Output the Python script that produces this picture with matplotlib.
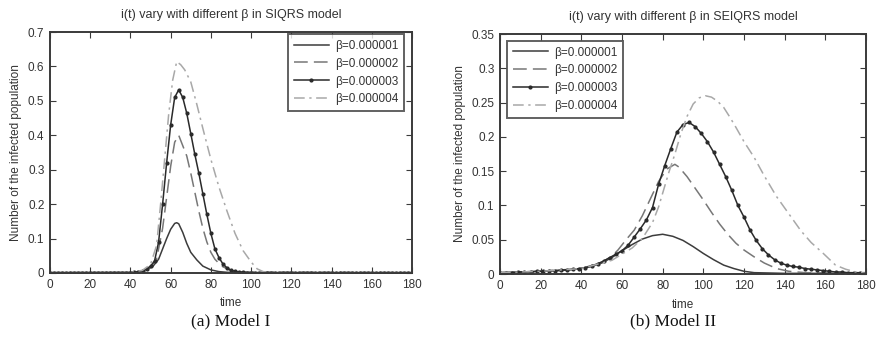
import numpy as np
import matplotlib
matplotlib.use('Agg')
import matplotlib.pyplot as plt
from matplotlib.ticker import FormatStrFormatter

plt.rcParams['font.family'] = ['Liberation Sans', 'DejaVu Sans']

labels = ['\u03b2=0.000001', '\u03b2=0.000002', '\u03b2=0.000003', '\u03b2=0.000004']

# ---- (a) SIQRS model ----
a1_t = [0, 40, 44, 48, 51, 54, 56, 58, 60, 62, 63, 64, 66, 68, 70, 73, 76, 80, 84, 88, 92, 180]
a1_v = [0.001, 0.002, 0.004, 0.01, 0.018, 0.04, 0.07, 0.1, 0.127, 0.144, 0.146, 0.143, 0.118,
        0.086, 0.06, 0.038, 0.02, 0.009, 0.004, 0.002, 0.001, 0.001]

a2_t = [0, 40, 46, 50, 53, 56, 58, 60, 62, 64, 66, 68, 70, 72, 74, 76, 78, 80, 82, 84, 86, 90, 94, 180]
a2_v = [0.001, 0.001, 0.006, 0.017, 0.04, 0.13, 0.22, 0.31, 0.38, 0.40, 0.37, 0.34, 0.29, 0.235,
        0.18, 0.13, 0.09, 0.06, 0.04, 0.028, 0.018, 0.007, 0.003, 0.001]

a3_t = list(range(0, 182, 2))
a3_v = [0.001, 0.001, 0.001, 0.001, 0.001, 0.001, 0.001, 0.001, 0.001, 0.001,   # 0-18
        0.001, 0.001, 0.001, 0.001, 0.001, 0.001, 0.001, 0.001, 0.001, 0.001,   # 20-38
        0.001, 0.002, 0.004, 0.007, 0.012, 0.02, 0.035, 0.09, 0.2, 0.32,        # 40-58
        0.43, 0.51, 0.532, 0.51, 0.464, 0.405, 0.345, 0.29, 0.23, 0.17,         # 60-78
        0.115, 0.07, 0.045, 0.026, 0.015, 0.008, 0.005, 0.003, 0.002, 0.001,    # 80-98
        0.001, 0.001, 0.001, 0.001, 0.001, 0.001, 0.001, 0.001, 0.001, 0.001,   # 100-118
        0.001, 0.001, 0.001, 0.001, 0.001, 0.001, 0.001, 0.001, 0.001, 0.001,   # 120-138
        0.001, 0.001, 0.001, 0.001, 0.001, 0.001, 0.001, 0.001, 0.001, 0.001,   # 140-158
        0.001, 0.001, 0.001, 0.001, 0.001, 0.001, 0.001, 0.001, 0.001, 0.001,   # 160-178
        0.001]                                                                  # 180

a4_t = [0, 40, 46, 50, 53, 55, 57, 59, 61, 63, 65, 67, 70, 73, 76, 80, 84, 88, 92, 96, 100, 103, 106, 110, 180]
a4_v = [0.001, 0.001, 0.008, 0.025, 0.08, 0.2, 0.33, 0.46, 0.56, 0.614, 0.605, 0.59, 0.555, 0.49,
        0.42, 0.33, 0.25, 0.18, 0.115, 0.065, 0.032, 0.012, 0.004, 0.001, 0.001]

# ---- (b) SEIQRS model ----
b1_t = [0, 10, 20, 30, 40, 45, 50, 55, 60, 65, 70, 75, 80, 85, 90, 95, 100, 105, 110, 115, 120, 125, 140, 180]
b1_v = [0.002, 0.003, 0.004, 0.005, 0.008, 0.011, 0.016, 0.024, 0.034, 0.043, 0.051, 0.056, 0.058,
        0.055, 0.049, 0.04, 0.03, 0.021, 0.013, 0.008, 0.004, 0.002, 0.001, 0.001]

b2_t = [0, 20, 40, 50, 55, 58, 62, 66, 70, 74, 78, 82, 86, 88, 92, 96, 100, 104, 108, 112, 116, 120,
        125, 130, 136, 142, 150, 180]
b2_v = [0.002, 0.004, 0.008, 0.017, 0.026, 0.035, 0.05, 0.064, 0.085, 0.11, 0.135, 0.153, 0.16, 0.156,
        0.142, 0.125, 0.108, 0.09, 0.073, 0.058, 0.045, 0.035, 0.025, 0.016, 0.008, 0.004, 0.002, 0.001]

b3_t = list(range(0, 183, 3))
b3_v = [0.002, 0.002, 0.002, 0.003, 0.003, 0.003, 0.004, 0.004, 0.005, 0.005,   # 0-27
        0.006, 0.006, 0.007, 0.008, 0.009, 0.012, 0.015, 0.019, 0.024, 0.029,   # 30-57
        0.034, 0.042, 0.054, 0.066, 0.079, 0.097, 0.131, 0.158, 0.183, 0.207,   # 60-87
        0.218, 0.221, 0.215, 0.205, 0.193, 0.178, 0.16, 0.142, 0.122, 0.1,      # 90-117
        0.083, 0.064, 0.049, 0.037, 0.028, 0.021, 0.016, 0.013, 0.011, 0.01,    # 120-147
        0.008, 0.007, 0.006, 0.005, 0.004, 0.003, 0.003, 0.002, 0.002, 0.002,   # 150-177
        0.002]                                                                   # 180

b4_t = [0, 20, 40, 55, 65, 70, 75, 78, 80, 83, 86, 89, 92, 95, 98, 101, 104, 107, 110, 113, 116, 120,
        125, 130, 136, 142, 148, 153, 159, 165, 170, 175, 180]
b4_v = [0.002, 0.004, 0.008, 0.02, 0.038, 0.052, 0.075, 0.098, 0.118, 0.148, 0.175, 0.205, 0.23, 0.248,
        0.257, 0.26, 0.258, 0.252, 0.243, 0.229, 0.214, 0.193, 0.17, 0.143, 0.113, 0.088, 0.063, 0.046,
        0.03, 0.013, 0.007, 0.003, 0.001]

fig = plt.figure(figsize=(8.8, 3.46), dpi=100)
ax1 = fig.add_axes([0.0568, 0.211, 0.4114, 0.6965])
ax2 = fig.add_axes([0.5682, 0.208, 0.4159, 0.6936])

frame = '#3a3a3a'
c1, c2, c3, c4 = '#3c3c3c', '#777777', '#2a2a2a', '#a8a8a8'


def draw(ax, series, ymax, ystep, title, loc, anchor):
    (t1, v1), (t2, v2), (t3, v3), (t4, v4) = series
    ax.plot(t1, v1, '-', color=c1, lw=1.1, label=labels[0])
    ax.plot(t2, v2, color=c2, lw=1.1, dashes=(9, 4), label=labels[1])
    ax.plot(t3, v3, '-', color=c3, lw=1.1, marker='.', ms=4, label=labels[2])
    ax.plot(t4, v4, color=c4, lw=1.1, dashes=(7, 3, 1.5, 3), label=labels[3])
    ax.set_xlim(0, 180)
    ax.set_ylim(0, ymax)
    ax.set_xticks(np.arange(0, 181, 20))
    ax.set_yticks(np.arange(0, ymax + ystep / 2, ystep))
    ax.yaxis.set_major_formatter(FormatStrFormatter('%g'))
    ax.tick_params(direction='in', top=True, right=True, length=4, width=0.8,
                   colors=frame, labelcolor='#333333', labelsize=8.5, pad=4)
    for s in ax.spines.values():
        s.set_color(frame)
        s.set_linewidth(1.4)
    ax.set_xlabel('time', fontsize=8.5, color='#333333', labelpad=5)
    ax.set_ylabel('Number of the infected population', fontsize=8.5, color='#333333', labelpad=4)
    ax.set_title(title, fontsize=9, color='#333333', pad=10)
    leg = ax.legend(loc=loc, bbox_to_anchor=anchor, fontsize=8.5, handlelength=3.0,
                    handletextpad=0.5, labelspacing=0.5, borderpad=0.45,
                    borderaxespad=0.0, fancybox=False)
    leg.get_frame().set_edgecolor(frame)
    leg.get_frame().set_linewidth(1.4)
    for txt in leg.get_texts():
        txt.set_color('#333333')


draw(ax1, [(a1_t, a1_v), (a2_t, a2_v), (a3_t, a3_v), (a4_t, a4_v)], 0.7, 0.1,
     'i(t) vary with different \u03b2 in SIQRS model', 'upper right', (0.977, 0.99))
draw(ax2, [(b1_t, b1_v), (b2_t, b2_v), (b3_t, b3_v), (b4_t, b4_v)], 0.35, 0.05,
     'i(t) vary with different \u03b2 in SEIQRS model', 'upper left', (0.02, 0.97))

fig.text(0.262, 0.07, '(a) Model I', ha='center', va='center', fontsize=12.5,
         family='Liberation Serif', color='#111111')
fig.text(0.765, 0.07, '(b) Model II', ha='center', va='center', fontsize=12.5,
         family='Liberation Serif', color='#111111')

fig.savefig('out.png', dpi=100, facecolor='white')
